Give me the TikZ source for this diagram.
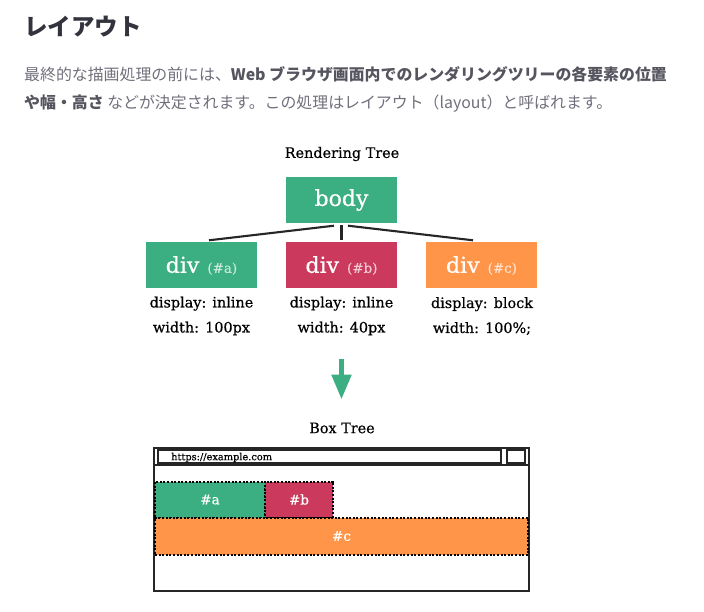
\documentclass[tikz,border=0pt]{standalone}
\usepackage{fontspec}
\setmainfont{DejaVu Serif}[RawFeature={embolden=0.5}]
\newfontfamily\cjk{Noto Sans CJK JP}
\usetikzlibrary{arrows.meta}
\definecolor{boxgreen}{HTML}{3BAE82}
\definecolor{boxred}{HTML}{CB3A5C}
\definecolor{boxorange}{HTML}{FF9549}
\definecolor{headtext}{HTML}{33333D}
\definecolor{greytext}{HTML}{70707C}
\definecolor{boldtext}{HTML}{55555F}
\tikzset{
  treebox/.style={minimum width=111pt, minimum height=46pt, inner sep=0pt, text=white},
  divname/.style={font=\fontsize{22}{22}\selectfont},
  propstext/.style={align=center, inner sep=0pt, font=\fontsize{14.4}{25}\selectfont},
  treetitle/.style={inner sep=0pt, font=\fontsize{14.4}{14.4}\selectfont},
  treeline/.style={line width=2.1pt, draw=black!85},
  introtext/.style={anchor=base west, inner sep=0pt, text=greytext, font=\cjk\fontsize{15.9}{15.9}\selectfont},
  pagebox/.style={fill=#1, draw=black, line width=2pt, dash pattern=on 2pt off 1.6pt, inner sep=0pt, text=white, font=\fontsize{13.5}{13.5}\selectfont},
  windowline/.style={draw=black!85, line width=2pt}
}
\newcommand{\divlabel}[2]{div\hspace{8pt}{\fontsize{13.5}{13.5}\selectfont\color{white!72!#2} (#1)}}
\begin{document}
\begin{tikzpicture}[x=1pt, y=-1pt]
\useasboundingbox (0, 0) rectangle (704, 612);

\node [anchor=base west, inner sep=0pt, text=headtext, font=\cjk\bfseries\fontsize{23.5}{23.5}\selectfont] (heading) at (24, 36) {レイアウト};
\node [introtext] (introa) at (24, 81) {最終的な描画処理の前には、{\bfseries\color{boldtext} Web ブラウザ画面内でのレンダリングツリーの各要素の位置}};
\node [introtext] (introb) at (24, 109) {{\bfseries\color{boldtext}や幅・高さ} などが決定されます。この処理はレイアウト（layout）と呼ばれます。};

\node [treetitle] (rendertitle) at (342, 154) {Rendering Tree};
\node [treebox, fill=boxgreen, divname] (body) at (341.5, 200) {body};
\node [treebox, fill=boxgreen, divname] (diva) at (201.5, 265.5) {\divlabel{\#a}{boxgreen}};
\node [treebox, fill=boxred, divname] (divb) at (341.5, 265.5) {\divlabel{\#b}{boxred}};
\node [treebox, fill=boxorange, divname] (divc) at (481.5, 265.5) {\divlabel{\#c}{boxorange}};
\draw [treeline] ([xshift=-7.5pt, yshift=-2.5pt]body.south) -- ([xshift=7.5pt, yshift=2pt]diva.north);
\draw [treeline] ([yshift=-2pt]body.south) -- ([yshift=2pt]divb.north);
\draw [treeline] ([xshift=6.5pt, yshift=-2.5pt]body.south) -- ([xshift=-8.5pt, yshift=2pt]divc.north);
\node [propstext] (propsa) at (201.5, 316) {display: inline\\width: 100px};
\node [propstext] (propsb) at (341.5, 316) {display: inline\\width: 40px};
\node [propstext] (propsc) at (482, 316) {display: block\\width: 100\%;};

\coordinate (arrowtop) at (341.5, 359);
\coordinate (arrowtip) at (341.5, 399.5);
\draw [draw=boxgreen, line width=5.3pt, -{Triangle[length=25pt, width=19pt]}] (arrowtop) -- (arrowtip);

\node [treetitle] (boxtitle) at (342, 428) {Box Tree};

\draw [windowline] (154, 447.5) rectangle (528.5, 591);
\draw [windowline] (154, 465) -- (528.5, 465);
\draw [windowline] (158, 450) rectangle (500.5, 463);
\draw [windowline] (507, 450) rectangle (525, 463);
\node [anchor=west, inner sep=0pt, font=\fontsize{9.8}{9.8}\selectfont] (urltext) at (171, 457.5) {https://example.com};

\node [pagebox=boxgreen, minimum width=109.5pt, minimum height=36pt] (boxa) at (210, 499.5) {\#a};
\node [pagebox=boxred, minimum width=68.5pt, minimum height=36pt] (boxb) at (299, 499.5) {\#b};
\node [pagebox=boxorange, minimum width=373pt, minimum height=37pt] (boxc) at (341.5, 536) {\#c};

\end{tikzpicture}
\end{document}
